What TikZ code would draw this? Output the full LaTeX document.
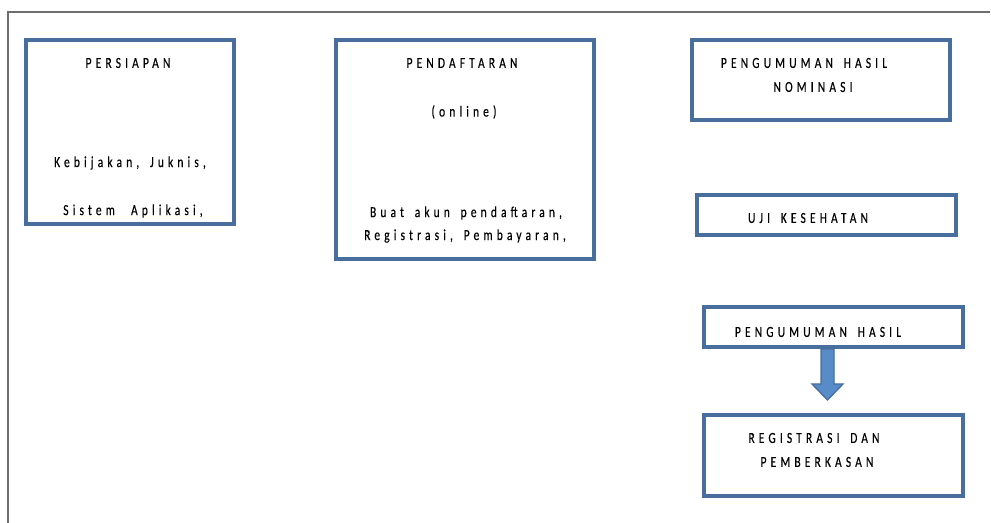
\documentclass[tikz,border=0pt]{standalone}
\usepackage{fontspec}
\setmainfont{Carlito}[FakeStretch=0.75,LetterSpace=27,FakeBold=0.3,WordSpace=1.6]
\usetikzlibrary{calc}
\definecolor{boxblue}{RGB}{72,110,158}
\definecolor{arrowblue}{RGB}{88,140,200}
\definecolor{framegray}{RGB}{110,110,110}
\tikzset{
  stage/.style={draw=boxblue, line width=3pt, inner sep=0pt},
  lbl/.style={inner sep=0pt, text=black, font=\fontsize{11.5}{13}\selectfont}
}

\begin{document}
\begin{tikzpicture}[x=0.75pt,y=-0.75pt]
\useasboundingbox (0,0) rectangle (991,523);
\draw [framegray, line width=1.5pt] (8,523) -- (8,12) -- (990,12);

\node [stage, minimum width=156pt, minimum height=138pt] (persiapan) at (130,132) {};
\node [lbl] (persiapan1) at (128,63) {PERSIAPAN};
\node [lbl] (persiapan2) at (130,163) {Kebijakan, Juknis,};
\node [lbl] (persiapan3) at (133,211) {Sistem\hspace{4pt} Aplikasi,};

\node [stage, minimum width=193.5pt, minimum height=164.25pt] (daftar) at (465,149.5) {};
\node [lbl] (daftar1) at (462,63) {PENDAFTARAN};
\node [lbl] (daftar2) at (464,112) {(online)};
\node [lbl] (daftar3) at (466,213) {Buat akun pendaftaran,};
\node [lbl] (daftar4) at (465,236) {Registrasi, Pembayaran,};

\node [stage, minimum width=193.5pt, minimum height=60pt] (nominasi) at (821,80) {};
\node [lbl] (nominasi1) at (804,63) {PENGUMUMAN HASIL};
\node [lbl] (nominasi2) at (813,87) {NOMINASI};

\node [stage, minimum width=194.25pt, minimum height=30pt] (uji) at (826.5,215) {};
\node [lbl] (uji1) at (808,218) {UJI KESEHATAN};

\node [stage, minimum width=194.25pt, minimum height=30pt] (hasil) at (833.5,327) {};
\node [lbl] (hasil1) at (818,332) {PENGUMUMAN HASIL};

\node [stage, minimum width=194.25pt, minimum height=60.75pt] (berkas) at (833.5,455.5) {};
\node [lbl] (berkas1) at (814,438) {REGISTRASI DAN};
\node [lbl] (berkas2) at (817,462) {PEMBERKASAN};

\draw [fill=arrowblue, draw=boxblue, line width=1pt] ($(hasil.south)+(-12.5,0)$) -- ++(0,35) -- ++(-9,0) -- ++(15.5,16) -- ++(15.5,-16) -- ++(-9,0) -- ++(0,-35) -- cycle;
\end{tikzpicture}
\end{document}
